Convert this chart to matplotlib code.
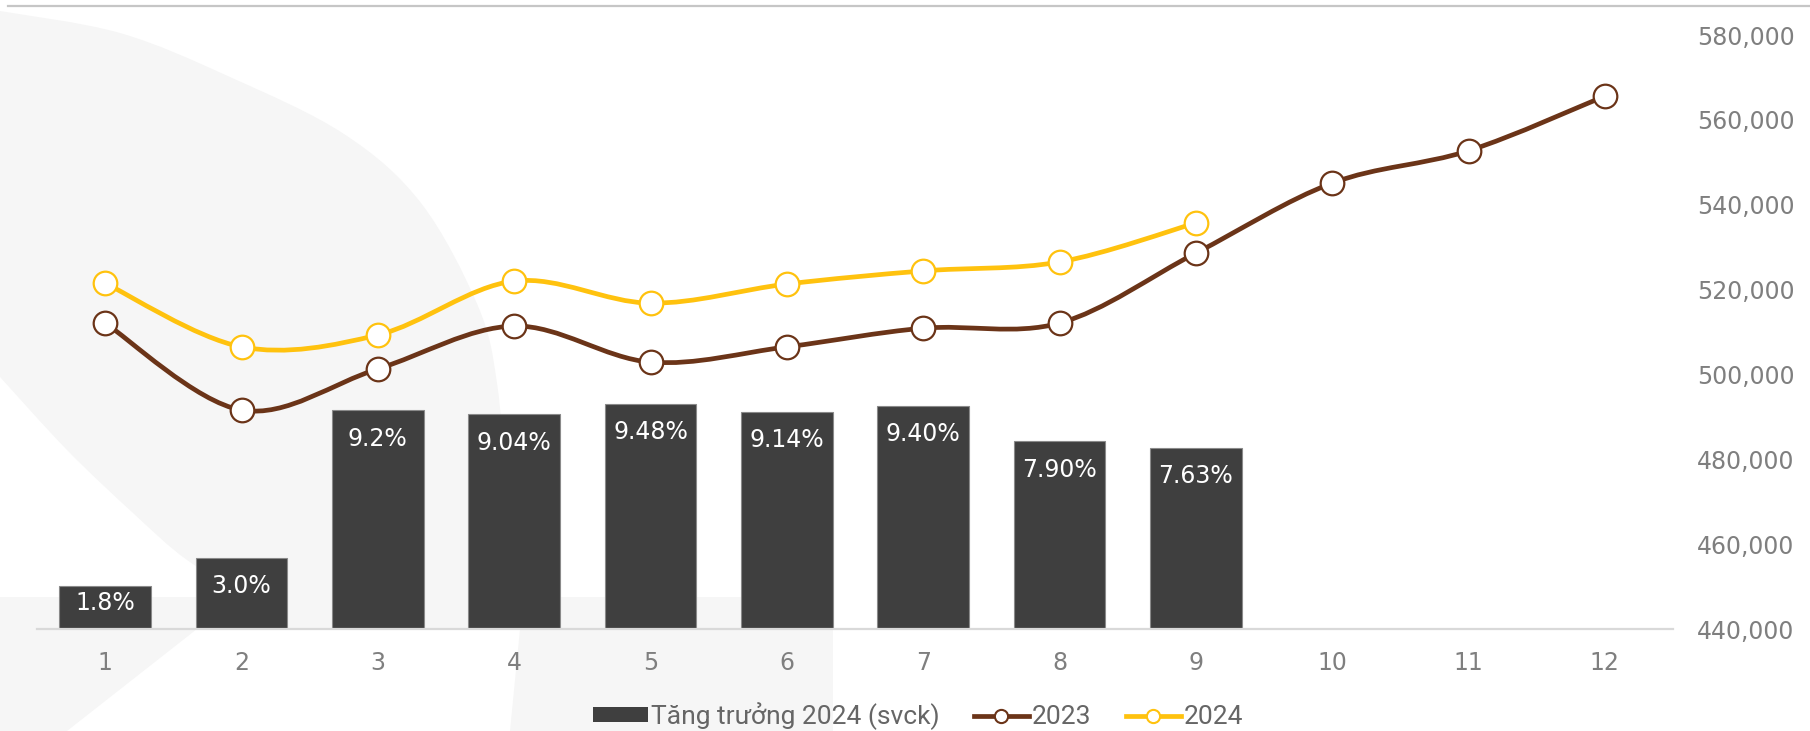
import matplotlib
matplotlib.use("Agg")
import matplotlib.pyplot as plt
from matplotlib.path import Path
from matplotlib.patches import PathPatch, Polygon, Patch
from matplotlib.lines import Line2D
from matplotlib.ticker import FuncFormatter

# data
months = [1, 2, 3, 4, 5, 6, 7, 8, 9, 10, 11, 12]
growth_2024 = [1.8, 3.0, 9.2, 9.04, 9.48, 9.14, 9.40, 7.90, 7.63]
growth_labels = ["1.8%", "3.0%", "9.2%", "9.04%", "9.48%", "9.14%", "9.40%", "7.90%", "7.63%"]
val_2023 = [512100, 491600, 501300, 511400, 502900, 506500, 510900, 512100,
            528600, 545100, 552700, 565600]
val_2024 = [521500, 506500, 509300, 522000, 516800, 521300, 524400, 526500, 535700]

BROWN = "#6b3418"
GOLD = "#ffc20e"
BAR = "#3f3f3f"
GRAY = "#7f7f7f"

W, H = 1810, 731
fig = plt.figure(figsize=(W / 100, H / 100), dpi=100)
fig.patch.set_facecolor("white")


def smooth_pts(pts):
    # Bezier vertices/codes through pts (Excel style smoothing), no MOVETO
    n = len(pts)
    verts, codes = [], []
    for i in range(n - 1):
        p0 = pts[i - 1] if i > 0 else pts[i]
        p1 = pts[i]
        p2 = pts[i + 1]
        p3 = pts[i + 2] if i + 2 < n else pts[i + 1]
        c1 = (p1[0] + (p2[0] - p0[0]) / 6, p1[1] + (p2[1] - p0[1]) / 6)
        c2 = (p2[0] - (p3[0] - p1[0]) / 6, p2[1] - (p3[1] - p1[1]) / 6)
        verts += [c1, c2, p2]
        codes += [Path.CURVE4] * 3
    return verts, codes


def smooth_path(xs, ys):
    pts = list(zip(xs, ys))
    v, c = smooth_pts(pts)
    return Path([pts[0]] + v, [Path.MOVETO] + c)


def px(p):
    return (p[0] / W, 1 - p[1] / H)


# faint background watermark
bg = "#f6f6f6"
outer = [(0, 11), (120, 33), (230, 77), (344, 134), (421, 203), (478, 306),
         (497, 383), (506, 490), (512, 597)]
inner = [(250, 597), (187, 560), (133, 513), (67, 450), (0, 377)]
ov, oc = smooth_pts([px(p) for p in outer])
iv, ic = smooth_pts([px(p) for p in inner])
leaf = Path([px(outer[0])] + ov + [px(inner[0])] + iv + [px(outer[0])],
            [Path.MOVETO] + oc + [Path.LINETO] + ic + [Path.CLOSEPOLY])
fig.add_artist(PathPatch(leaf, facecolor=bg, edgecolor="none",
                         transform=fig.transFigure, zorder=-5))
shapes = [
    [(0, 597), (833, 597), (833, 629), (0, 629)],
    [(0, 629), (197, 629), (67, 731), (0, 731)],
    [(520, 629), (833, 629), (833, 731), (510, 731)],
]
for s in shapes:
    fig.add_artist(Polygon([px(p) for p in s], closed=True, facecolor=bg,
                           edgecolor="none", transform=fig.transFigure, zorder=-5))

# top rule
fig.add_artist(Line2D([8 / W, 1], [1 - 6 / H, 1 - 6 / H], transform=fig.transFigure,
                      color="#c6c6c6", lw=1.6))

ax = fig.add_axes([37 / W, 1 - 629 / H, (1673 - 37) / W, 594 / H])
ax.set_facecolor("none")
ax2 = ax.twinx()

# bars (hidden axis 0-25%)
ax.bar(months[:len(growth_2024)], growth_2024, width=0.67, color=BAR,
       edgecolor="#8a8a8a", linewidth=0.8, zorder=2)
for m, v, lab in zip(months, growth_2024, growth_labels):
    # inside end, but kept inside the bar when the bar is short
    ax.text(m, max(v - 1.2, 1.1), lab, ha="center", va="center",
            color="white", fontsize=17, zorder=3)
ax.set_ylim(0, 25)
ax.set_xlim(0.5, 12.5)
ax.set_yticks([])
for sp in ["top", "right", "left"]:
    ax.spines[sp].set_visible(False)
ax.spines["bottom"].set_color("#d9d9d9")
ax.spines["bottom"].set_linewidth(1.6)
ax.set_xticks(months)
ax.set_xticklabels([str(m) for m in months])
ax.tick_params(axis="x", length=0, pad=16, labelsize=17, labelcolor=GRAY)

for vals, col in [(val_2023, BROWN), (val_2024, GOLD)]:
    xs = months[:len(vals)]
    ax2.add_patch(PathPatch(smooth_path(xs, vals), fill=False, edgecolor=col, lw=3.4,
                            capstyle="round", joinstyle="round", zorder=3))
    ax2.plot(xs, vals, linestyle="none", marker="o", ms=17, mfc="white",
             mec=col, mew=1.6, zorder=4)

ax2.set_ylim(440000, 580000)
ax2.set_yticks(range(440000, 580001, 20000))
ax2.yaxis.set_major_formatter(FuncFormatter(lambda v, p: f"{v:,.0f}"))
ax2.tick_params(axis="y", length=0, pad=17.5, labelsize=17, labelcolor=GRAY)
for sp in ax2.spines.values():
    sp.set_visible(False)

# legend
handles = [
    Patch(facecolor=BAR, edgecolor="none"),
    Line2D([], [], color=BROWN, lw=3.4, marker="o", ms=9.5, mfc="white", mec=BROWN, mew=1.5),
    Line2D([], [], color=GOLD, lw=3.4, marker="o", ms=9.5, mfc="white", mec=GOLD, mew=1.5),
]
labels = ["Tăng trưởng 2024 (svck)", "2023", "2024"]
leg = fig.legend(handles, labels, loc="center", bbox_to_anchor=(918 / W, 1 - 716 / H),
                 ncol=3, frameon=False, handlelength=2.1, handleheight=0.5,
                 handletextpad=0.1, columnspacing=1.3, numpoints=1,
                 prop={"family": ["Roboto", "DejaVu Sans"], "size": 19})
for t in leg.get_texts():
    t.set_color("#666666")

fig.savefig("out.png", dpi=100)
